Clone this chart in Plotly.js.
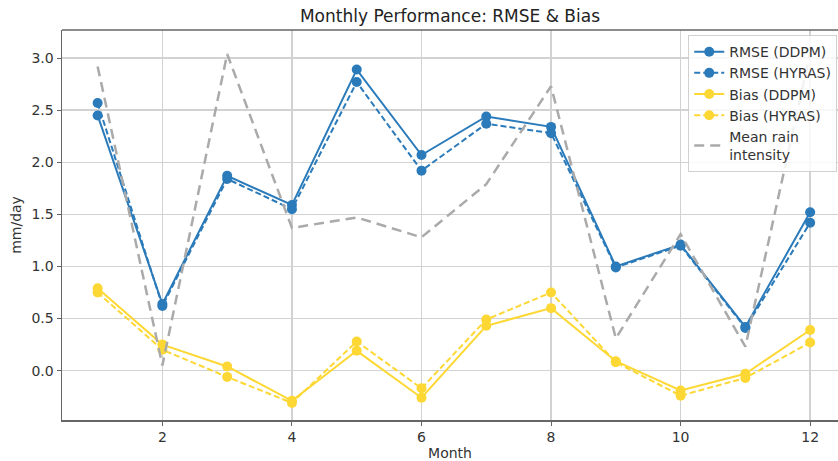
<!DOCTYPE html>
<html>
<head>
<meta charset="utf-8">
<script src="https://cdn.plot.ly/plotly-3.0.1.min.js"></script>
<style>html,body{margin:0;padding:0;background:#fff;}#chart{width:838px;height:461px;}</style>
</head>
<body>
<div id="chart"></div>
<script>
const months = [1,2,3,4,5,6,7,8,9,10,11,12];
const rmseDDPM  = [2.45, 0.64, 1.87, 1.59, 2.89, 2.07, 2.44, 2.34, 1.00, 1.21, 0.42, 1.52];
const rmseHYRAS = [2.57, 0.62, 1.84, 1.55, 2.77, 1.92, 2.37, 2.28, 0.99, 1.20, 0.41, 1.42];
const biasDDPM  = [0.79, 0.25, 0.04, -0.29, 0.19, -0.26, 0.43, 0.60, 0.09, -0.19, -0.03, 0.39];
const biasHYRAS = [0.75, 0.20, -0.06, -0.31, 0.28, -0.17, 0.49, 0.75, 0.08, -0.24, -0.07, 0.27];
const rainIntensity = [2.92, 0.05, 3.04, 1.37, 1.47, 1.28, 1.79, 2.73, 0.31, 1.31, 0.23, 3.05];
const xTicks = [2,4,6,8,10,12];
const yTicks = [0, 0.5, 1.0, 1.5, 2.0, 2.5, 3.0];

const blue = '#2b7bba';
const gold = '#fdd835';
const grey = '#aaaaaa';

function series(y, name, color, dash) {
  return {
    x: months, y: y, name: name, type: 'scatter', mode: 'lines+markers',
    line: {color: color, width: 2, dash: dash},
    marker: {color: color, size: 10}
  };
}
const traces = [
  series(rmseDDPM, 'RMSE (DDPM)', blue, 'solid'),
  series(rmseHYRAS, 'RMSE (HYRAS)', blue, '6px,3px'),
  series(biasDDPM, 'Bias (DDPM)', gold, 'solid'),
  series(biasHYRAS, 'Bias (HYRAS)', gold, '6px,3px'),
  {x: months, y: rainIntensity, name: 'Mean rain<br>intensity', type: 'scatter', mode: 'lines',
   line: {color: grey, width: 2.5, dash: '10px,6px'}}
];

const layout = {
  width: 838, height: 461,
  margin: {l: 62, r: 0, t: 30, b: 41},
  paper_bgcolor: '#fff', plot_bgcolor: '#fff',
  font: {family: 'DejaVu Sans', size: 14, color: '#333'},
  title: {text: 'Monthly Performance: RMSE & Bias', font: {size: 17, color: '#222'},
          x: 0.5, xref: 'paper', y: 0.965, yref: 'container', yanchor: 'middle'},
  xaxis: {
    range: [0.45, 12.43], tickvals: xTicks, ticktext: xTicks.map(String),
    showgrid: true, gridcolor: '#d2d2d2', gridwidth: 1.5,
    showline: true, linecolor: '#666', linewidth: 1.5, mirror: false,
    ticks: 'outside', ticklen: 4, tickcolor: '#666', zeroline: false,
    title: {text: 'Month', font: {size: 14}, standoff: 4}
  },
  yaxis: {
    range: [-0.474, 3.27], tickvals: yTicks, ticktext: yTicks.map(v => v.toFixed(1)),
    showgrid: true, gridcolor: '#d2d2d2', gridwidth: 1.5,
    showline: true, linecolor: '#666', linewidth: 1.5,
    ticks: 'outside', ticklen: 4, tickcolor: '#666', zeroline: false,
    title: {text: 'mm/day', font: {size: 14}, standoff: 6}
  },
  shapes: [{type: 'line', xref: 'paper', yref: 'paper', x0: 0, x1: 1, y0: 1, y1: 1,
            line: {color: '#666', width: 1.5}}],
  legend: {x: 0.999, xanchor: 'right', y: 0.987, yanchor: 'top',
           bgcolor: 'rgba(255,255,255,0.85)', bordercolor: '#d0d0d0', borderwidth: 1,
           font: {size: 14, color: '#333'}, tracegroupgap: 0, itemwidth: 30},
  showlegend: true
};
Plotly.newPlot('chart', traces, layout, {displayModeBar: false, staticPlot: true});
</script>
</body>
</html>
